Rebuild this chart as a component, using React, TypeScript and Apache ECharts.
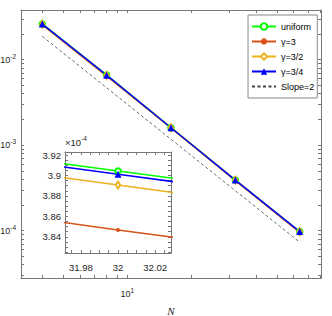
import React, { useEffect, useRef } from 'react';
import * as echarts from 'echarts';

// ---- data ----
const N = [4, 8, 16, 32, 64];
const uniformErr = [2.62e-2, 6.6e-3, 1.6e-3, 3.9045e-4, 0.9762e-4];
const gamma3Err = [2.55e-2, 6.4e-3, 1.585e-3, 3.8467e-4, 0.95e-4];
const gamma32Err = [2.59e-2, 6.53e-3, 1.595e-3, 3.8906e-4, 0.9705e-4];
const gamma34Err = [2.61e-2, 6.58e-3, 1.598e-3, 3.9012e-4, 0.9748e-4];
const slopeN = [4, 64];
const slopeRef = [0.01875, 0.0000732];

const seriesNames = ['uniform', 'γ=3', 'γ=3/2', 'γ=3/4', 'Slope=2'];

// ---- ticks ----
const mainXTicks = [4, 5, 6, 7, 8, 9, 10, 20, 30, 40, 50, 60, 70, 80];
const mainXLabels = [10];
const mainYTicks = [
  3e-5, 4e-5, 5e-5, 6e-5, 7e-5, 8e-5, 9e-5,
  1e-4, 2e-4, 3e-4, 4e-4, 5e-4, 6e-4, 7e-4, 8e-4, 9e-4,
  1e-3, 2e-3, 3e-3, 4e-3, 5e-3, 6e-3, 7e-3, 8e-3, 9e-3,
  1e-2, 2e-2, 3e-2,
];
const mainYLabels = [1e-4, 1e-3, 1e-2];
const insetXTicks = [31.975, 31.98, 31.985, 31.99, 31.995, 32, 32.005, 32.01, 32.015, 32.02, 32.025];
const insetXLabels = [31.98, 32, 32.02];
const insetYTicks = [
  3.825e-4, 3.83e-4, 3.835e-4, 3.84e-4, 3.845e-4, 3.85e-4, 3.855e-4, 3.86e-4, 3.865e-4,
  3.87e-4, 3.875e-4, 3.88e-4, 3.885e-4, 3.89e-4, 3.895e-4, 3.9e-4, 3.905e-4, 3.91e-4,
  3.915e-4, 3.92e-4,
];
const insetYLabels = [3.84e-4, 3.86e-4, 3.88e-4, 3.9e-4, 3.92e-4];

const FONT = 'Liberation Sans, Arial, Helvetica, sans-serif';
const LINE = { color: '#777', width: 1 };
const TXT = '#262626';

const pow10Rich = {
  b: { fontSize: 9, fontFamily: FONT, color: TXT },
  s: { fontSize: 6.5, fontFamily: FONT, color: TXT, padding: [0, 0, 7, 0] },
};
const pow10Fmt = (v: number) => `{b|10}{s|${Math.round(Math.log10(v))}}`;

function makeAxis(opts: any) {
  const { grid, pos, min, max, ticks, labels, formatter, rich, margin, fontSize, extra } = opts;
  return {
    type: 'log',
    logBase: 10,
    gridIndex: grid,
    position: pos,
    min,
    max,
    axisLine: { show: true, onZero: false, lineStyle: LINE },
    axisTick: { show: true, inside: true, length: 3, customValues: ticks, lineStyle: LINE },
    axisLabel: labels
      ? {
          show: true,
          customValues: labels,
          formatter,
          rich,
          margin,
          color: TXT,
          fontFamily: FONT,
          fontSize: fontSize || 9,
        }
      : { show: false },
    splitLine: { show: false },
    minorTick: { show: false },
    minorSplitLine: { show: false },
    ...(extra || {}),
  };
}

function toPairs(xs: number[], ys: number[]) {
  return xs.map((x, i) => [x, ys[i]]);
}

function buildSeries(xi: number, yi: number) {
  return [
    {
      name: 'uniform', type: 'line', xAxisIndex: xi, yAxisIndex: yi,
      data: toPairs(N, uniformErr),
      symbol: 'emptyCircle', symbolSize: 5.5,
      lineStyle: { color: '#00FF00', width: 1.5 },
      itemStyle: { color: '#00FF00', borderColor: '#00FF00', borderWidth: 1.2 },
      clip: true,
    },
    {
      name: 'γ=3', type: 'line', xAxisIndex: xi, yAxisIndex: yi,
      data: toPairs(N, gamma3Err),
      symbol: 'circle', symbolSize: 4,
      lineStyle: { color: '#D95319', width: 1.5 },
      itemStyle: { color: '#D95319' },
      clip: true,
    },
    {
      name: 'γ=3/2', type: 'line', xAxisIndex: xi, yAxisIndex: yi,
      data: toPairs(N, gamma32Err),
      symbol: 'emptyDiamond', symbolSize: [4.5, 7],
      lineStyle: { color: '#EDB120', width: 1.5 },
      itemStyle: { color: '#EDB120', borderColor: '#EDB120', borderWidth: 1.2 },
      clip: true,
    },
    {
      name: 'γ=3/4', type: 'line', xAxisIndex: xi, yAxisIndex: yi,
      data: toPairs(N, gamma34Err),
      symbol: 'triangle', symbolSize: 7,
      lineStyle: { color: '#0000FF', width: 1.5 },
      itemStyle: { color: '#0000FF' },
      clip: true,
    },
  ];
}

export default function App() {
  const ref = useRef<HTMLDivElement>(null);

  useEffect(() => {
    if (!ref.current) return;
    const chart = echarts.init(ref.current, undefined, { renderer: 'svg' });

    const mainX = { grid: 0, min: 3.18, max: 80.5 };
    const mainY = { grid: 0, min: 2.79e-5, max: 0.0381 };
    const insX = { grid: 1, min: 31.9715, max: 32.0285 };
    const insY = { grid: 1, min: 3.8243e-4, max: 3.9233e-4 };

    const option: any = {
      animation: false,
      backgroundColor: '#fff',
      textStyle: { fontFamily: FONT },
      grid: [
        { left: 21, top: 10, right: 11, bottom: 38, containLabel: false, outerBoundsMode: 'none' },
        {
          left: 65, top: 152, width: 106, height: 101, containLabel: false, outerBoundsMode: 'none',
          show: true, backgroundColor: '#fff', borderWidth: 0, z: 3,
        },
      ],
      xAxis: [
        makeAxis({
          ...mainX, pos: 'bottom', ticks: mainXTicks, labels: mainXLabels,
          formatter: pow10Fmt, rich: pow10Rich, margin: 9,
          extra: {
            name: 'N', nameLocation: 'middle', nameGap: 27,
            nameTextStyle: { fontFamily: 'Liberation Serif, Times New Roman, serif', fontStyle: 'italic', fontSize: 11, color: TXT },
          },
        }),
        makeAxis({ ...mainX, pos: 'top', ticks: mainXTicks }),
        makeAxis({
          ...insX, pos: 'bottom', ticks: insetXTicks, labels: insetXLabels,
          formatter: (v: number) => String(+v.toFixed(2)), margin: 9, fontSize: 9.5,
          extra: { z: 4 },
        }),
        makeAxis({ ...insX, pos: 'top', ticks: insetXTicks, extra: { z: 4 } }),
      ],
      yAxis: [
        makeAxis({
          ...mainY, pos: 'left', ticks: mainYTicks, labels: mainYLabels,
          formatter: pow10Fmt, rich: pow10Rich, margin: 5,
        }),
        makeAxis({ ...mainY, pos: 'right', ticks: mainYTicks }),
        makeAxis({
          ...insY, pos: 'left', ticks: insetYTicks, labels: insetYLabels,
          formatter: (v: number) => String(+(v * 1e4).toFixed(2)), margin: 4, fontSize: 9.5,
          extra: {
            z: 4,
            name: '×10{s|-4}', nameLocation: 'end', nameGap: 3,
            nameTextStyle: {
              align: 'left', verticalAlign: 'bottom', fontSize: 9.5, color: TXT, fontFamily: FONT,
              rich: { s: { fontSize: 6.5, color: TXT, fontFamily: FONT, padding: [0, 0, 7, 0] } },
            },
          },
        }),
        makeAxis({ ...insY, pos: 'right', ticks: insetYTicks, extra: { z: 4 } }),
      ],
      legend: {
        data: seriesNames,
        orient: 'vertical',
        left: 248,
        top: 15,
        itemWidth: 24,
        itemHeight: 8,
        itemGap: 6,
        padding: [7, 3, 7, 3],
        borderColor: '#888',
        borderWidth: 1,
        borderRadius: 0,
        backgroundColor: '#fff',
        textStyle: { fontSize: 9, fontFamily: FONT, color: '#000' },
        selectedMode: false,
      },
      series: [
        ...buildSeries(0, 0),
        {
          name: 'Slope=2', type: 'line', xAxisIndex: 0, yAxisIndex: 0,
          data: toPairs(slopeN, slopeRef),
          symbol: 'circle', showSymbol: false, symbolSize: 0,
          lineStyle: { color: '#444', width: 0.8, type: [3, 2.5] },
          itemStyle: { color: '#444', opacity: 0 },
        },
        ...buildSeries(2, 2).map((s) => ({ ...s, z: 5 })),
      ],
    };

    chart.setOption(option);
    return () => chart.dispose();
  }, []);

  return (
    <div
      ref={ref}
      style={{ position: 'absolute', left: 0, top: 0, width: 332, height: 316 }}
    />
  );
}
